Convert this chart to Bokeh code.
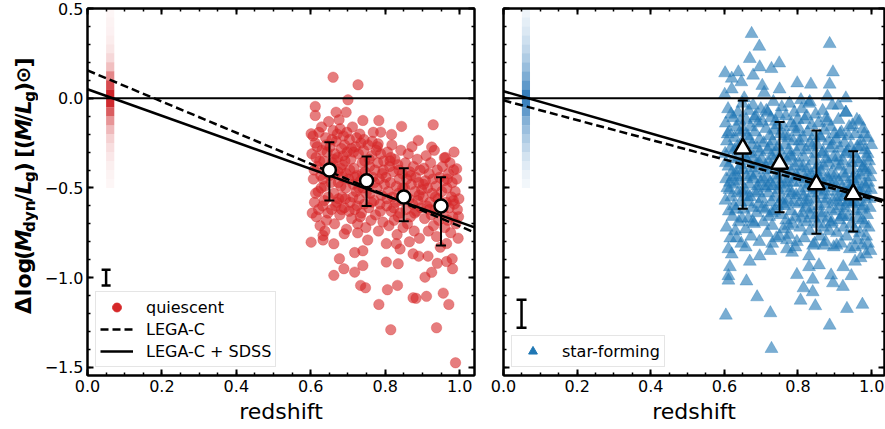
import math
import numpy as np
from bokeh.plotting import figure
from bokeh.layouts import row
from bokeh.models import (Range1d, FixedTicker, LinearAxis, CustomJSTickFormatter,
                          Legend, LegendItem, Span)
from bokeh.core.properties import value
from bokeh.embed import file_html
from bokeh.resources import INLINE

# ---------------- data ----------------
x_major = [0.0, 0.2, 0.4, 0.6, 0.8, 1.0]
y_major = [-1.5, -1.0, -0.5, 0.0, 0.5]

# quiescent galaxies (redshift, delta log M/L)
quiescent_points = [
    (0.660, 0.117), (0.727, 0.075), (0.700, -0.009), (0.612, -0.046), (0.612, -0.096),
    (0.668, -0.078), (0.695, -0.078), (0.740, -0.124), (0.783, -0.124), (0.929, -0.148),
    (0.844, -0.157), (0.788, -0.189), (0.817, -0.202), (0.889, -0.235), (0.925, -0.272),
    (0.781, -0.254), (0.959, -0.332), (0.992, -0.393), (0.601, -0.198),
    (0.601, -0.802), (0.633, -0.765), (0.633, -0.790), (0.662, -0.811), (0.677, -0.894),
    (0.689, -0.950), (0.662, -0.987), (0.718, -0.969), (0.740, -0.932), (0.740, -0.850),
    (0.734, -1.043), (0.747, -1.056), (0.783, -1.149), (0.803, -0.913), (0.835, -0.922),
    (0.806, -1.067), (0.833, -1.043), (0.815, -1.290), (0.875, -1.112), (0.883, -1.115),
    (0.911, -1.104), (0.907, -0.997), (0.925, -0.970), (0.956, -1.086), (0.971, -1.149),
    (0.938, -1.279), (0.989, -1.474), (0.981, -0.950), (0.965, -0.910), (0.940, -0.920),
    (0.875, -0.867), (0.890, -0.880), (0.840, -0.840), (0.830, -0.810), (0.718, -0.860),
    (0.690, -0.755), (0.726, -0.750), (0.753, -0.790), (0.803, -0.810), (0.980, -0.895),
    (0.965, -0.810),
    (0.603, -0.31), (0.607, -0.45), (0.610, -0.58), (0.612, -0.25), (0.615, -0.66),
    (0.618, -0.38), (0.620, -0.52), (0.622, -0.19), (0.625, -0.71), (0.627, -0.43),
    (0.630, -0.29), (0.632, -0.60), (0.635, -0.35), (0.637, -0.49), (0.640, -0.22),
    (0.642, -0.68), (0.645, -0.40), (0.647, -0.55), (0.648, -0.13), (0.604, -0.64),
    (0.614, -0.33), (0.628, -0.50), (0.638, -0.74), (0.644, -0.30),
    (0.652, -0.27), (0.654, -0.47), (0.656, -0.62), (0.658, -0.36), (0.660, -0.18),
    (0.662, -0.53), (0.664, -0.70), (0.666, -0.42), (0.668, -0.24), (0.670, -0.58),
    (0.672, -0.33), (0.674, -0.47), (0.676, -0.12), (0.678, -0.65), (0.680, -0.39),
    (0.682, -0.28), (0.684, -0.55), (0.686, -0.44), (0.688, -0.21), (0.690, -0.61),
    (0.692, -0.35), (0.694, -0.50), (0.696, -0.73), (0.698, -0.30), (0.655, -0.38),
    (0.665, -0.31), (0.675, -0.56), (0.685, -0.37), (0.695, -0.42), (0.671, -0.20),
    (0.681, -0.49), (0.691, -0.26),
    (0.702, -0.45), (0.704, -0.23), (0.706, -0.58), (0.708, -0.34), (0.710, -0.67),
    (0.712, -0.16), (0.714, -0.48), (0.716, -0.39), (0.718, -0.62), (0.720, -0.27),
    (0.722, -0.52), (0.724, -0.43), (0.726, -0.70), (0.728, -0.31), (0.730, -0.56),
    (0.732, -0.20), (0.734, -0.46), (0.736, -0.64), (0.738, -0.36), (0.740, -0.50),
    (0.742, -0.29), (0.744, -0.59), (0.746, -0.41), (0.748, -0.72), (0.705, -0.40),
    (0.715, -0.30), (0.725, -0.60), (0.735, -0.25), (0.745, -0.35),
    (0.752, -0.48), (0.754, -0.26), (0.756, -0.61), (0.758, -0.38), (0.760, -0.53),
    (0.762, -0.68), (0.764, -0.32), (0.766, -0.44), (0.768, -0.19), (0.770, -0.57),
    (0.772, -0.40), (0.774, -0.65), (0.776, -0.29), (0.778, -0.50), (0.780, -0.36),
    (0.782, -0.74), (0.784, -0.45), (0.786, -0.59), (0.788, -0.31), (0.790, -0.54),
    (0.792, -0.42), (0.794, -0.69), (0.796, -0.35), (0.798, -0.48), (0.765, -0.24),
    (0.802, -0.44), (0.804, -0.60), (0.806, -0.30), (0.808, -0.52), (0.810, -0.71),
    (0.812, -0.38), (0.814, -0.47), (0.816, -0.63), (0.818, -0.26), (0.820, -0.55),
    (0.822, -0.41), (0.824, -0.68), (0.826, -0.34), (0.828, -0.58), (0.830, -0.49),
    (0.832, -0.76), (0.834, -0.37), (0.836, -0.53), (0.838, -0.45), (0.840, -0.64),
    (0.842, -0.29), (0.844, -0.57), (0.846, -0.42), (0.848, -0.72), (0.815, -0.33),
    (0.835, -0.66),
    (0.852, -0.50), (0.854, -0.36), (0.856, -0.62), (0.858, -0.45), (0.860, -0.70),
    (0.862, -0.31), (0.864, -0.56), (0.866, -0.41), (0.868, -0.66), (0.870, -0.48),
    (0.872, -0.27), (0.874, -0.59), (0.876, -0.38), (0.878, -0.74), (0.880, -0.52),
    (0.882, -0.44), (0.884, -0.63), (0.886, -0.34), (0.888, -0.57), (0.890, -0.47),
    (0.892, -0.78), (0.894, -0.40), (0.896, -0.61), (0.898, -0.51), (0.865, -0.80),
    (0.902, -0.55), (0.904, -0.39), (0.906, -0.67), (0.908, -0.46), (0.910, -0.32),
    (0.912, -0.60), (0.914, -0.50), (0.916, -0.74), (0.918, -0.42), (0.920, -0.58),
    (0.922, -0.36), (0.924, -0.65), (0.926, -0.53), (0.928, -0.45), (0.930, -0.71),
    (0.932, -0.29), (0.934, -0.62), (0.936, -0.49), (0.938, -0.77), (0.940, -0.40),
    (0.942, -0.56), (0.944, -0.68), (0.946, -0.44), (0.948, -0.83), (0.915, -0.88),
    (0.952, -0.52), (0.954, -0.38), (0.956, -0.64), (0.958, -0.46), (0.960, -0.72),
    (0.962, -0.33), (0.964, -0.58), (0.966, -0.50), (0.968, -0.68), (0.970, -0.42),
    (0.972, -0.61), (0.974, -0.36), (0.976, -0.75), (0.978, -0.55), (0.980, -0.47),
    (0.982, -0.66), (0.984, -0.40), (0.986, -0.59), (0.988, -0.52), (0.990, -0.70),
    (0.992, -0.45), (0.994, -0.62), (0.996, -0.78), (0.998, -0.56), (0.985, -0.30),
    (0.606, -0.21), (0.609, -0.40), (0.613, -0.53), (0.617, -0.27), (0.621, -0.62),
    (0.624, -0.35), (0.629, -0.16), (0.633, -0.45), (0.636, -0.57), (0.641, -0.26),
    (0.646, -0.64), (0.651, -0.43), (0.657, -0.23), (0.661, -0.34), (0.667, -0.60),
    (0.673, -0.41), (0.679, -0.17), (0.683, -0.62), (0.687, -0.32), (0.693, -0.56),
    (0.697, -0.19), (0.703, -0.63), (0.709, -0.28), (0.713, -0.55), (0.719, -0.44),
    (0.723, -0.22), (0.729, -0.50), (0.733, -0.66), (0.739, -0.42), (0.743, -0.23),
    (0.749, -0.53), (0.757, -0.34), (0.763, -0.58), (0.771, -0.47), (0.779, -0.27),
    (0.787, -0.63), (0.795, -0.40), (0.805, -0.56), (0.813, -0.35), (0.823, -0.61),
    (0.837, -0.40), (0.847, -0.50), (0.857, -0.55), (0.869, -0.43), (0.879, -0.64),
    (0.891, -0.54), (0.903, -0.48), (0.919, -0.62), (0.935, -0.55), (0.951, -0.60),
    (0.967, -0.45), (0.983, -0.57), (0.997, -0.66),
]

# star-forming galaxies
starforming_points = [
    (0.674, 0.359), (0.695, 0.288), (0.886, 0.303), (0.669, 0.220), (0.749, 0.195),
    (0.696, 0.173), (0.602, 0.140), (0.638, 0.145), (0.895, 0.145), (0.728, 0.164),
    (0.798, 0.084), (0.835, 0.077), (0.886, 0.077), (0.930, 0.000), (0.678, 0.127),
    (0.620, 0.110), (0.646, 0.090), (0.703, 0.070), (0.750, 0.050), (0.808, -0.010),
    (0.832, -0.020), (0.880, 0.010), (0.910, -0.040), (0.930, -0.080), (0.960, -0.120),
    (0.980, -0.200),
    (0.604, -1.210), (0.728, -1.396), (0.725, -1.197), (0.689, -1.108), (0.660, -1.020),
    (0.611, -1.015), (0.611, -0.990), (0.615, -0.940), (0.620, -0.870), (0.611, -0.840),
    (0.633, -0.780), (0.658, -0.830), (0.669, -0.910), (0.696, -0.880), (0.725, -0.850),
    (0.770, -0.790), (0.793, -0.830), (0.784, -0.860), (0.797, -0.984), (0.815, -1.058),
    (0.807, -1.127), (0.847, -1.158), (0.840, -1.080), (0.840, -1.010), (0.830, -0.940),
    (0.857, -0.930), (0.830, -0.880), (0.886, -1.266), (0.890, -0.987), (0.895, -1.030),
    (0.922, -1.050), (0.933, -1.173), (0.975, -1.150), (0.945, -0.990), (0.923, -0.940),
    (0.955, -0.910), (0.970, -0.890), (0.985, -0.870), (0.990, -0.810), (0.955, -0.830),
    (0.870, -0.820), (0.845, -0.810), (0.905, -0.820), (0.750, -0.770), (0.730, -0.810),
    (0.770, -0.840),
    (0.601, 0.02), (0.602, -0.31), (0.603, -0.57), (0.604, -0.14), (0.605, -0.45),
    (0.606, -0.72), (0.607, -0.24), (0.608, -0.50), (0.610, -0.06), (0.611, -0.38),
    (0.612, -0.63), (0.613, -0.19), (0.615, -0.47), (0.616, -0.78), (0.617, -0.28),
    (0.619, -0.55), (0.620, 0.05), (0.621, -0.41), (0.622, -0.66), (0.624, -0.11),
    (0.625, -0.34), (0.626, -0.60), (0.628, -0.22), (0.629, -0.48), (0.630, -0.74),
    (0.632, -0.16), (0.633, -0.43), (0.635, -0.27), (0.636, -0.53), (0.637, -0.08),
    (0.639, -0.69), (0.640, -0.33), (0.641, -0.46), (0.643, -0.13), (0.644, -0.58),
    (0.645, -0.37), (0.646, -0.81), (0.647, -0.25), (0.648, -0.52), (0.649, -0.03),
    (0.651, -0.40), (0.652, -0.18), (0.653, -0.62), (0.654, 0.00), (0.655, -0.29),
    (0.656, -0.51), (0.658, -0.73), (0.659, -0.12), (0.660, -0.44), (0.661, -0.35),
    (0.663, -0.58), (0.664, -0.21), (0.665, -0.67), (0.666, -0.07), (0.668, -0.48),
    (0.669, -0.31), (0.670, -0.55), (0.671, -0.16), (0.673, -0.77), (0.674, -0.39),
    (0.675, -0.26), (0.676, -0.61), (0.678, -0.04), (0.679, -0.45), (0.680, -0.33),
    (0.681, -0.70), (0.683, -0.19), (0.684, -0.53), (0.685, -0.10), (0.686, -0.42),
    (0.688, -0.64), (0.689, -0.28), (0.690, -0.49), (0.691, -0.14), (0.693, -0.59),
    (0.694, -0.36), (0.695, -0.80), (0.696, -0.23), (0.698, -0.47), (0.699, -0.06),
    (0.701, -0.34), (0.702, -0.56), (0.703, -0.13), (0.705, -0.45), (0.706, -0.69),
    (0.707, -0.25), (0.708, 0.03), (0.710, -0.50), (0.711, -0.38), (0.712, -0.62),
    (0.713, -0.17), (0.715, -0.44), (0.716, -0.75), (0.717, -0.29), (0.718, -0.08),
    (0.720, -0.53), (0.721, -0.36), (0.722, -0.66), (0.723, -0.21), (0.725, -0.47),
    (0.726, -0.11), (0.727, -0.58), (0.728, -0.32), (0.730, -0.71), (0.731, -0.24),
    (0.732, -0.49), (0.733, -0.02), (0.735, -0.40), (0.736, -0.63), (0.737, -0.18),
    (0.738, -0.55), (0.740, -0.30), (0.741, -0.78), (0.742, -0.43), (0.743, -0.15),
    (0.745, -0.60), (0.746, -0.27), (0.747, -0.51), (0.748, -0.09), (0.749, -0.37),
    (0.751, -0.48), (0.752, -0.20), (0.753, -0.65), (0.755, -0.31), (0.756, -0.05),
    (0.757, -0.56), (0.758, -0.42), (0.760, -0.73), (0.761, -0.16), (0.762, -0.39),
    (0.763, -0.60), (0.765, -0.26), (0.766, -0.50), (0.767, -0.10), (0.768, -0.68),
    (0.770, -0.35), (0.771, -0.45), (0.772, -0.22), (0.773, -0.57), (0.775, -0.76),
    (0.776, -0.29), (0.777, -0.03), (0.778, -0.52), (0.780, -0.41), (0.781, -0.63),
    (0.782, -0.14), (0.783, -0.33), (0.785, -0.70), (0.786, -0.47), (0.787, -0.24),
    (0.788, -0.58), (0.790, -0.08), (0.791, -0.38), (0.792, -0.66), (0.793, -0.19),
    (0.795, -0.54), (0.796, -0.30), (0.797, -0.80), (0.798, -0.44), (0.799, -0.12),
    (0.801, -0.36), (0.802, -0.59), (0.803, -0.17), (0.805, -0.47), (0.806, -0.72),
    (0.807, -0.27), (0.808, -0.52), (0.810, -0.06), (0.811, -0.41), (0.812, -0.64),
    (0.813, -0.22), (0.815, -0.55), (0.816, -0.33), (0.817, -0.78), (0.818, -0.12),
    (0.820, -0.45), (0.821, -0.61), (0.822, -0.29), (0.823, -0.50), (0.825, -0.69),
    (0.826, -0.19), (0.827, -0.39), (0.828, -0.57), (0.830, -0.03), (0.831, -0.48),
    (0.832, -0.74), (0.833, -0.25), (0.835, -0.43), (0.836, -0.62), (0.837, -0.15),
    (0.838, -0.53), (0.840, -0.35), (0.841, -0.82), (0.842, -0.46), (0.843, -0.21),
    (0.845, -0.67), (0.846, -0.31), (0.847, -0.56), (0.848, -0.09), (0.849, -0.40),
    (0.851, -0.51), (0.852, -0.26), (0.853, -0.70), (0.855, -0.37), (0.856, -0.14),
    (0.857, -0.60), (0.858, -0.45), (0.860, -0.77), (0.861, -0.22), (0.862, -0.41),
    (0.863, -0.64), (0.865, -0.31), (0.866, -0.54), (0.867, -0.07), (0.868, -0.72),
    (0.870, -0.38), (0.871, -0.48), (0.872, -0.18), (0.873, -0.59), (0.875, -0.80),
    (0.876, -0.34), (0.877, -0.11), (0.878, -0.56), (0.880, -0.44), (0.881, -0.67),
    (0.882, -0.24), (0.883, -0.36), (0.885, -0.74), (0.886, -0.50), (0.887, -0.28),
    (0.888, -0.62), (0.890, -0.16), (0.891, -0.42), (0.892, -0.69), (0.893, -0.04),
    (0.895, -0.57), (0.896, -0.33), (0.897, -0.83), (0.898, -0.47), (0.899, -0.20),
    (0.901, -0.43), (0.902, -0.63), (0.903, -0.23), (0.905, -0.52), (0.906, -0.75),
    (0.907, -0.33), (0.908, -0.58), (0.910, -0.12), (0.911, -0.46), (0.912, -0.68),
    (0.913, -0.28), (0.915, -0.60), (0.916, -0.38), (0.917, -0.81), (0.918, -0.19),
    (0.920, -0.50), (0.921, -0.65), (0.922, -0.35), (0.923, -0.55), (0.925, -0.72),
    (0.926, -0.25), (0.927, -0.44), (0.928, -0.61), (0.930, -0.08), (0.931, -0.53),
    (0.932, -0.77), (0.933, -0.30), (0.935, -0.48), (0.936, -0.66), (0.937, -0.21),
    (0.938, -0.57), (0.940, -0.40), (0.941, -0.84), (0.942, -0.51), (0.943, -0.27),
    (0.945, -0.70), (0.946, -0.36), (0.947, -0.59), (0.948, -0.15), (0.949, -0.45),
    (0.951, -0.54), (0.952, -0.31), (0.953, -0.73), (0.955, -0.42), (0.956, -0.20),
    (0.957, -0.63), (0.958, -0.49), (0.960, -0.79), (0.961, -0.27), (0.962, -0.46),
    (0.963, -0.67), (0.965, -0.36), (0.966, -0.58), (0.967, -0.13), (0.968, -0.75),
    (0.970, -0.43), (0.971, -0.52), (0.972, -0.24), (0.973, -0.62), (0.975, -0.82),
    (0.976, -0.39), (0.977, -0.17), (0.978, -0.60), (0.980, -0.48), (0.981, -0.70),
    (0.982, -0.29), (0.983, -0.41), (0.985, -0.77), (0.986, -0.55), (0.987, -0.33),
    (0.988, -0.65), (0.990, -0.22), (0.991, -0.47), (0.992, -0.72), (0.993, -0.35),
    (0.995, -0.61), (0.996, -0.44), (0.997, -0.85), (0.998, -0.51), (0.999, -0.26),
    (0.604, -0.36), (0.609, -0.20), (0.614, -0.51), (0.618, -0.09), (0.623, -0.44),
    (0.627, -0.29), (0.631, -0.62), (0.638, -0.40), (0.642, -0.19), (0.648, -0.67),
    (0.657, -0.33), (0.662, -0.55), (0.667, -0.23), (0.672, -0.43), (0.677, -0.69),
    (0.682, -0.11), (0.687, -0.37), (0.692, -0.52), (0.697, -0.30), (0.704, -0.61),
    (0.709, -0.40), (0.714, -0.07), (0.719, -0.49), (0.724, -0.27), (0.729, -0.64),
    (0.734, -0.35), (0.739, -0.13), (0.744, -0.45), (0.754, -0.36), (0.759, -0.59),
    (0.764, -0.21), (0.769, -0.47), (0.774, -0.71), (0.779, -0.32), (0.784, -0.53),
    (0.789, -0.16), (0.794, -0.43), (0.804, -0.24), (0.809, -0.67), (0.814, -0.38),
    (0.819, -0.58), (0.824, -0.10), (0.829, -0.44), (0.834, -0.65), (0.839, -0.27),
    (0.844, -0.50), (0.854, -0.43), (0.859, -0.21), (0.864, -0.66), (0.869, -0.30),
    (0.874, -0.52), (0.879, -0.13), (0.884, -0.46), (0.889, -0.70), (0.894, -0.26),
    (0.904, -0.37), (0.909, -0.55), (0.914, -0.20), (0.919, -0.66), (0.924, -0.42),
    (0.929, -0.31), (0.934, -0.58), (0.939, -0.16), (0.944, -0.49), (0.954, -0.58),
    (0.959, -0.34), (0.964, -0.52), (0.969, -0.27), (0.974, -0.68), (0.979, -0.38),
    (0.984, -0.50), (0.989, -0.31), (0.994, -0.56), (0.997, -0.40),
]

# binned medians with scatter
q_bin_z = [0.65, 0.75, 0.85, 0.95]
q_bin_med = [-0.40, -0.46, -0.55, -0.60]
q_bin_hi = [-0.245, -0.325, -0.39, -0.44]
q_bin_lo = [-0.57, -0.60, -0.685, -0.82]

sf_bin_z = [0.65, 0.75, 0.85, 0.95]
sf_bin_med = [-0.28, -0.365, -0.48, -0.535]
sf_bin_hi = [-0.013, -0.133, -0.18, -0.295]
sf_bin_lo = [-0.616, -0.635, -0.755, -0.742]

# typical individual uncertainty
q_err_z, q_err_hi, q_err_lo = [0.05], [-0.956], [-1.043]
sf_err_z, sf_err_hi, sf_err_lo = [0.049], [-1.123], [-1.279]

# linear fits: intercept, slope  (LEGA-C, LEGA-C + SDSS)
q_fit_legac = (0.155, -0.868)
q_fit_both = (0.05, -0.74)
sf_fit_legac = (-0.012, -0.549)
sf_fit_both = (0.039, -0.588)

# SDSS distribution strip (relative density per 0.05 bin, from +0.5 down to -0.5)
sdss_z = 0.061
q_sdss_density = [0.04, 0.05, 0.06, 0.08, 0.11, 0.17, 0.28, 0.52, 0.78, 0.95,
                  0.92, 0.70, 0.46, 0.30, 0.20, 0.14, 0.10, 0.07, 0.05, 0.04]
sf_sdss_density = [0.08, 0.12, 0.16, 0.22, 0.28, 0.36, 0.46, 0.58, 0.72, 0.90,
                   0.88, 0.70, 0.55, 0.45, 0.36, 0.28, 0.20, 0.14, 0.09, 0.06]

# ---------------- styling ----------------
FONT = "DejaVu Sans"
RED = "#d62728"
BLUE = "#1f77b4"
Y0, Y1 = -1.545, 0.5
H = 429
TOP, BOTTOM = 8, 54
LABEL_W = 38

x_minor = [round(v, 2) for v in np.arange(0.0, 1.0501, 0.05)]
y_minor = [round(v, 2) for v in np.arange(-1.5, 0.5001, 0.1)]

num_fmt = "return tick.toFixed(1).replace('-', '\u2212');"
blank_fmt = "return '';"


def cfg_axis(ax, ticks, minor, labels):
    ax.ticker = FixedTicker(ticks=ticks, minor_ticks=minor)
    ax.formatter = CustomJSTickFormatter(code=num_fmt if labels else blank_fmt)
    ax.major_tick_in = 6
    ax.major_tick_out = 0
    ax.minor_tick_in = 3
    ax.minor_tick_out = 0
    ax.major_tick_line_width = 2
    ax.minor_tick_line_width = 1.5
    ax.axis_line_width = 2
    ax.major_label_text_font = FONT
    ax.major_label_text_font_size = "16px"
    ax.major_label_text_color = "black"
    ax.major_label_standoff = 4 if labels else 0


def make_panel(width, xmax, bl, br, ylabels, points, marker, color, msize,
               density, dens_color, fits, bz, bmed, bhi, blo, bmarker, bsize,
               ez, ehi, elo, ecap, legend_items_spec):
    p = figure(width=width, height=H, x_range=Range1d(0, xmax), y_range=Range1d(Y0, Y1),
               output_backend="svg", toolbar_location=None,
               min_border_left=bl, min_border_right=br, min_border_top=TOP,
               min_border_bottom=BOTTOM)
    p.grid.visible = False
    p.outline_line_color = "black"
    p.outline_line_width = 2
    p.background_fill_color = "white"
    p.border_fill_color = "white"

    cfg_axis(p.xaxis[0], x_major, x_minor, True)
    cfg_axis(p.yaxis[0], y_major, y_minor, ylabels)
    p.xaxis.axis_label = "redshift"
    p.xaxis.axis_label_text_font = FONT
    p.xaxis.axis_label_text_font_size = "22px"
    p.xaxis.axis_label_text_font_style = "normal"
    p.xaxis.axis_label_text_color = "black"
    p.xaxis.axis_label_standoff = 4
    top_ax = LinearAxis()
    cfg_axis(top_ax, x_major, x_minor, False)
    p.add_layout(top_ax, "above")
    right_ax = LinearAxis()
    cfg_axis(right_ax, y_major, y_minor, False)
    p.add_layout(right_ax, "right")

    # SDSS density strip
    n = len(density)
    edges = np.linspace(0.5, -0.5, n + 1)
    p.quad(left=[sdss_z - 0.011] * n, right=[sdss_z + 0.011] * n,
           top=edges[:-1], bottom=edges[1:], fill_color=dens_color,
           fill_alpha=density, line_color=None)

    xs = [pt[0] for pt in points]
    ys = [pt[1] for pt in points]
    p.scatter(xs, ys, marker=marker, size=msize, fill_color=color, fill_alpha=0.6,
              line_color=color, line_alpha=0.6, line_width=0.5)
    leg_sc = p.scatter([np.nan], [np.nan], marker=marker, size=msize,
                       fill_color=color, line_color=color)

    p.add_layout(Span(location=0, dimension="width", line_color="black", line_width=2))

    xl = np.array([0.0, xmax])
    r_dash = p.line(xl, fits[0][0] + fits[0][1] * xl, line_color="black",
                    line_width=2.5, line_dash="8 4")
    r_solid = p.line(xl, fits[1][0] + fits[1][1] * xl, line_color="black", line_width=2.5)

    # binned medians
    p.segment(x0=bz, y0=blo, x1=bz, y1=bhi, line_color="black", line_width=2)
    p.scatter(bz, bhi, marker="dash", size=10, line_color="black", line_width=2)
    p.scatter(bz, blo, marker="dash", size=10, line_color="black", line_width=2)
    p.scatter(bz, bmed, marker=bmarker, size=bsize, fill_color="white",
              line_color="black", line_width=2.5)

    rmap = {"sc": leg_sc, "dash": r_dash, "solid": r_solid}
    items = [LegendItem(label=lab, renderers=[rmap[key]]) for lab, key in legend_items_spec]
    legend = Legend(items=items, location=(8, 8), margin=0, padding=4, spacing=0,
                    label_height=20, glyph_height=22, glyph_width=33, label_standoff=13,
                    label_text_font=FONT, label_text_font_size="16px",
                    label_text_color="black", border_line_color="#cccccc",
                    border_line_width=1, background_fill_alpha=0.8)
    p.add_layout(legend)

    # typical individual error
    p.segment(x0=ez, y0=elo, x1=ez, y1=ehi, line_color="black", line_width=2.5)
    p.scatter(ez, ehi, marker="dash", size=ecap, line_color="black", line_width=2.5)
    p.scatter(ez, elo, marker="dash", size=ecap, line_color="black", line_width=2.5)
    return p


p1 = make_panel(480 - LABEL_W, 1.04, 87 - LABEL_W, 6, True, quiescent_points, "circle",
                RED, 10.5, q_sdss_density, "#cb181d", (q_fit_legac, q_fit_both),
                q_bin_z, q_bin_med, q_bin_hi, q_bin_lo, "circle", 13,
                q_err_z, q_err_hi, q_err_lo, 9,
                [("quiescent", "sc"), ("LEGA-C", "dash"), ("LEGA-C + SDSS", "solid")])

p2 = make_panel(405, 1.035, 23, 1, False, starforming_points, "triangle", BLUE, 13,
                sf_sdss_density, "#2171b5", (sf_fit_legac, sf_fit_both),
                sf_bin_z, sf_bin_med, sf_bin_hi, sf_bin_lo, "triangle", 17,
                sf_err_z, sf_err_hi, sf_err_lo, 10,
                [("star-forming", "sc")])

# ---------------- rotated y-axis label (separate strip, pixel coordinates) ----------------
pl = figure(width=LABEL_W, height=H, x_range=Range1d(0, LABEL_W), y_range=Range1d(0, H),
            output_backend="svg", toolbar_location=None, x_axis_location=None,
            y_axis_location=None, min_border=0)
pl.grid.visible = False
pl.outline_line_color = None
pl.background_fill_color = "white"
pl.border_fill_color = "white"

pieces = [  # text, style, scale, em-width
    ("Δ", "bold", 1.0, 0.774), (None, None, 0, 0.17), ("log", "bold", 1.0, 1.746),
    (None, None, 0, 0.17), ("(", "bold", 1.0, 0.457), ("M", "bold italic", 1.0, 1.02),
    ("dyn", "bold", 0.7, 1.62), ("/", "bold", 1.0, 0.38), ("L", "bold italic", 1.0, 0.66),
    ("g", "bold", 0.7, 0.53), (")", "bold", 1.0, 0.457), (None, None, 0, 0.30),
    ("[", "bold", 1.0, 0.457), ("(", "bold", 1.0, 0.457), ("M", "bold italic", 1.0, 1.02),
    ("/", "bold", 1.0, 0.38), ("L", "bold italic", 1.0, 0.66), ("g", "bold", 0.7, 0.53),
    (")", "bold", 1.0, 0.457), ("⊙", "bold", 0.9, 0.838), ("]", "bold", 1.0, 0.457),
]
FS = 22
total_em = sum(pc[3] for pc in pieces)
start_py, end_py = 357, 59
px_per_em = (start_py - end_py) / total_em
main_mid_px = 23
sub_mid_px = 29.5
cum = 0.0
for text, style, scale, w in pieces:
    if text is not None:
        xo = sub_mid_px if scale < 0.8 else main_mid_px
        yo = H - (start_py - cum * px_per_em)
        pl.text(x=[xo], y=[yo], text=[text], angle=math.pi / 2,
                text_font=value(FONT), text_font_size=value(f"{FS * scale:.1f}px"),
                text_font_style=style, text_color="black", text_align="left",
                text_baseline="middle")
    cum += w

layout = row(pl, p1, p2)
open("out.html", "w").write(file_html(layout, INLINE))
